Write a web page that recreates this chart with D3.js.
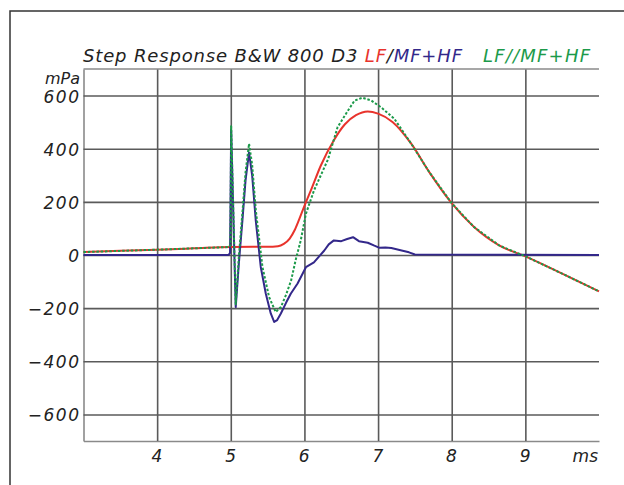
<!DOCTYPE html>
<html>
<head>
<meta charset="utf-8">
<script src="https://cdn.jsdelivr.net/npm/d3@7"></script>
<style>
  body { margin: 0; background: #fff; }
  text { font-family: 'DejaVu Sans', sans-serif; font-style: italic; fill: #222; }
</style>
</head>
<body>
<script>
// ---- data ----
var xTicks = [4, 5, 6, 7, 8, 9];
var yTicks = [-600, -400, -200, 0, 200, 400, 600];

// LF (red)
var lfTime = [3, 3.5, 4, 4.5, 5, 5.3, 5.5, 5.64, 5.72, 5.8, 5.87, 5.93, 6.0, 6.1, 6.22, 6.4, 6.55, 6.7, 6.86, 7.0, 7.2, 7.45, 7.7, 8.0, 8.3, 8.65, 9.0, 9.5, 10];
var lfVal  = [11, 16, 20, 25, 30, 31, 31, 33, 42, 62, 95, 135, 185, 252, 335, 432, 492, 526, 540, 532, 500, 419, 310, 195, 106, 35, -5, -70, -137];

// MF+HF (blue)
var mfTime = [3, 4.97, 4.99, 5.005, 5.067, 5.11, 5.158, 5.2, 5.248, 5.29, 5.339, 5.407, 5.475, 5.543, 5.589, 5.63, 5.68, 5.75, 5.816, 5.907, 6.02, 6.129, 6.2, 6.27, 6.33, 6.4, 6.5, 6.58, 6.66, 6.74, 6.86, 6.95, 7.02, 7.1, 7.18, 7.32, 7.42, 7.5, 10];
var mfVal  = [0, 0, 8, 470, -196, -30, 130, 280, 386, 300, 130, -45, -145, -220, -252, -245, -220, -180, -145, -107, -46, -28, -5, 17, 40, 55, 52, 60, 67, 52, 46, 35, 27, 28, 26, 17, 10, 2, 0];

// LF//MF+HF (green, dotted)
var sumTime = [3, 4, 4.98, 4.995, 5.005, 5.067, 5.11, 5.158, 5.2, 5.248, 5.29, 5.34, 5.43, 5.52, 5.61, 5.68, 5.75, 5.82, 5.88, 5.95, 6.02, 6.13, 6.32, 6.45, 6.59, 6.68, 6.79, 6.91, 7.04, 7.22, 7.45, 7.7, 8.0, 8.3, 8.65, 9.0, 9.5, 10];
var sumVal  = [11, 20, 30, 40, 485, -185, -5, 160, 310, 419, 340, 168, -45, -158, -215, -196, -150, -95, -20, 55, 155, 243, 360, 481, 543, 581, 592, 581, 556, 513, 419, 310, 195, 106, 35, -5, -70, -137];

var W = 624, H = 485;
var plotL = 83.5, plotT = 69, plotR = 599, plotB = 441;

var svg = d3.select('body').append('svg')
  .attr('width', W)
  .attr('height', H);

// outer frame
svg.append('path')
  .attr('d', 'M10,' + H + 'V11H' + W)
  .attr('fill', 'none')
  .attr('stroke', '#333')
  .attr('stroke-width', 1.5);

var x = d3.scaleLinear().domain([3, 10]).range([plotL, plotR]);
var y = d3.scaleLinear().domain([-700, 700]).range([plotB, plotT]);

// horizontal grid + y labels
var yAxis = svg.append('g')
  .attr('transform', 'translate(' + plotL + ',0)')
  .call(d3.axisLeft(y).tickValues(yTicks).tickFormat(d3.format('d'))
    .tickSize(-(plotR - plotL)).tickSizeOuter(0).tickPadding(3));

// vertical grid + x labels
var xAxis = svg.append('g')
  .attr('transform', 'translate(0,' + plotB + ')')
  .call(d3.axisBottom(x).tickValues(xTicks).tickFormat(d3.format('d'))
    .tickSize(-(plotB - plotT)).tickSizeOuter(0).tickPadding(9));

svg.selectAll('.tick line')
  .attr('stroke', '#5a5a5a')
  .attr('stroke-width', 1.6);
svg.selectAll('.domain')
  .attr('stroke', '#8a8a8a')
  .attr('stroke-width', 1.6);
svg.selectAll('.tick text')
  .attr('font-size', 17)
  .style('letter-spacing', '1.5px')
  .style('font-family', "'DejaVu Sans', sans-serif")
  .style('font-style', 'italic')
  .attr('fill', '#222');
yAxis.selectAll('.tick text').attr('dy', '0.38em');

// top border of plot
svg.append('line')
  .attr('x1', plotL).attr('x2', plotR)
  .attr('y1', plotT).attr('y2', plotT)
  .attr('stroke', '#8a8a8a')
  .attr('stroke-width', 1.6);

// unit labels
svg.append('text')
  .attr('x', 80).attr('y', 84)
  .attr('text-anchor', 'end')
  .attr('font-size', 16)
  .text('mPa');
svg.append('text')
  .attr('x', 598).attr('y', 462)
  .attr('text-anchor', 'end')
  .attr('font-size', 17)
  .text('ms');

// curves
function zip(t, v) {
  return t.map(function(d, i) { return [d, v[i]]; });
}
var smooth = d3.line()
  .x(function(d) { return x(d[0]); })
  .y(function(d) { return y(d[1]); })
  .curve(d3.curveMonotoneX);
var sharp = d3.line()
  .x(function(d) { return x(d[0]); })
  .y(function(d) { return y(d[1]); });

svg.append('path')
  .attr('d', smooth(zip(lfTime, lfVal)))
  .attr('fill', 'none')
  .attr('stroke', '#e8332c')
  .attr('stroke-width', 2);

svg.append('path')
  .attr('d', sharp(zip(mfTime, mfVal)))
  .attr('fill', 'none')
  .attr('stroke', '#33288a')
  .attr('stroke-width', 2)
  .attr('stroke-linejoin', 'round');

svg.append('path')
  .attr('d', sharp(zip(sumTime, sumVal)))
  .attr('fill', 'none')
  .attr('stroke', '#1c9a4a')
  .attr('stroke-width', 2)
  .attr('stroke-dasharray', '2.5,1.8')
  .attr('stroke-linejoin', 'round');

// title
var t1 = svg.append('text')
  .attr('x', 83).attr('y', 62)
  .attr('font-size', 18)
  .attr('textLength', 379)
  .attr('lengthAdjust', 'spacing')
  .style('white-space', 'pre');
t1.append('tspan').attr('fill', '#222').text('Step Response B&W 800 D3 ');
t1.append('tspan').style('fill', '#e8332c').text('LF');
t1.append('tspan').style('fill', '#222').text('/');
t1.append('tspan').style('fill', '#33288a').text('MF+HF');

svg.append('text')
  .attr('x', 483).attr('y', 62)
  .attr('font-size', 18)
  .attr('textLength', 107)
  .attr('lengthAdjust', 'spacing')
  .style('fill', '#1c9a4a')
  .text('LF//MF+HF');
</script>
</body>
</html>
